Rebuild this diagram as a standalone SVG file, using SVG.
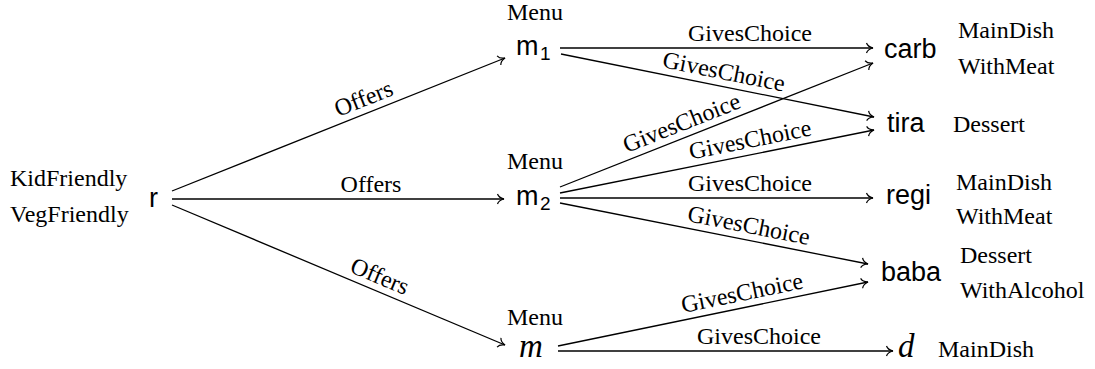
<svg xmlns="http://www.w3.org/2000/svg" width="1095" height="369" viewBox="0 0 1095 369">
<style>
.lbl{font-family:"Liberation Serif",serif;font-size:24px;fill:#000}
.el{font-family:"Liberation Serif",serif;font-size:24px;fill:#000;text-anchor:middle}
.nd{font-family:"Liberation Sans",sans-serif;font-size:27px;fill:#000}
.sub{font-family:"Liberation Sans",sans-serif;font-size:19px;fill:#000}
.mi{font-family:"Liberation Serif",serif;font-style:italic;font-size:33px;fill:#000}
.edge{stroke:#000;stroke-width:1.3;fill:none;marker-end:url(#to)}
</style>
<defs>
<marker id="to" markerUnits="userSpaceOnUse" markerWidth="14" markerHeight="14" viewBox="-8 -7 10 14" refX="0" refY="0" orient="auto">
<path d="M-6.5,-5 C-5.5,-2 -2.5,-0.6 0,0 C-2.5,0.6 -5.5,2 -6.5,5" fill="none" stroke="#000" stroke-width="1.2"/>
</marker>
</defs>
<g id="connectors">
<path class="edge" d="M172,191 L505,58"/>
<path class="edge" d="M172,199 L504,199"/>
<path class="edge" d="M172,205 L505,345"/>
<path class="edge" d="M560,48 L873,48"/>
<path class="edge" d="M561,54 L874,117"/>
<path class="edge" d="M560,187 L873,63"/>
<path class="edge" d="M560,193 L874,130"/>
<path class="edge" d="M560,198 L873,198"/>
<path class="edge" d="M560,203 L868,264"/>
<path class="edge" d="M558,346 L868,282"/>
<path class="edge" d="M558,351 L893,351"/>
<g id="edge-labels">
<text class="el" transform="translate(369,112.3) rotate(-21.77)" y="-7">Offers</text>
<text class="el" x="371" y="192">Offers</text>
<text class="el" transform="translate(374,289.9) rotate(22.8)" y="-7">Offers</text>
<text class="el" x="750" y="41">GivesChoice</text>
<text class="el" transform="translate(721,86.2) rotate(11.38)" y="-7">GivesChoice</text>
<text class="el" transform="translate(687,136.7) rotate(-21.61)" y="-7">GivesChoice</text>
<text class="el" transform="translate(753,154.3) rotate(-11.34)" y="-7">GivesChoice</text>
<text class="el" x="750" y="191">GivesChoice</text>
<text class="el" transform="translate(746,239.8) rotate(11.2)" y="-7">GivesChoice</text>
<text class="el" transform="translate(745,307.4) rotate(-11.67)" y="-7">GivesChoice</text>
<text class="el" x="759" y="344">GivesChoice</text>
</g>
</g>
<g id="node-r">
<text class="lbl" x="10" y="186">KidFriendly</text>
<text class="lbl" x="10" y="222">VegFriendly</text>
<text class="nd" x="149" y="207">r</text>
</g>
<g id="node-m1">
<text class="lbl" x="507" y="20">Menu</text>
<text class="nd" x="516" y="55">m</text>
<text class="sub" x="540" y="60">1</text>
</g>
<g id="node-m2">
<text class="lbl" x="507" y="169">Menu</text>
<text class="nd" x="516" y="205">m</text>
<text class="sub" x="540" y="210">2</text>
</g>
<g id="node-m">
<text class="lbl" x="507" y="325">Menu</text>
<text class="mi" x="519" y="357">m</text>
</g>
<g id="node-carb">
<text class="nd" x="884" y="58">carb</text>
<text class="lbl" x="958" y="38">MainDish</text>
<text class="lbl" x="958" y="74">WithMeat</text>
</g>
<g id="node-tira">
<text class="nd" x="887" y="132">tira</text>
<text class="lbl" x="953" y="132">Dessert</text>
</g>
<g id="node-regi">
<text class="nd" x="886" y="204">regi</text>
<text class="lbl" x="956" y="190">MainDish</text>
<text class="lbl" x="956" y="224">WithMeat</text>
</g>
<g id="node-baba">
<text class="nd" x="881" y="281">baba</text>
<text class="lbl" x="960" y="263">Dessert</text>
<text class="lbl" x="960" y="298">WithAlcohol</text>
</g>
<g id="node-d">
<text class="mi" x="898" y="357">d</text>
<text class="lbl" x="938" y="357">MainDish</text>
</g>
</svg>
